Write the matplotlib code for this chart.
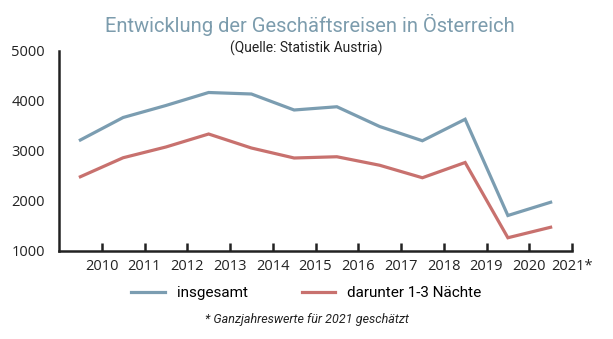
import matplotlib.pyplot as plt
import numpy as np

# data
labels = ['2010', '2011', '2012', '2013', '2014', '2015', '2016',
          '2017', '2018', '2019', '2020', '2021*']
insgesamt = [3220, 3670, 3910, 4170, 4140, 3820, 3885, 3490, 3205, 3635, 1710, 1975]
kurz = [2485, 2865, 3080, 3340, 3060, 2860, 2885, 2715, 2465, 2770, 1265, 1475]

blue = '#7b9db1'
red = '#c8716e'
title_col = '#7c9cad'
narrow = ['Roboto', 'DejaVu Sans']
tickfont = ['Open Sans', 'DejaVu Sans']

fig = plt.figure(figsize=(6.13, 3.39), dpi=100)
ax = fig.add_axes([59 / 613, 1 - 251 / 339, (572 - 59) / 613, 200 / 339])

x = np.arange(len(labels))
ax.plot(x, insgesamt, color=blue, lw=2.3, solid_joinstyle='miter', label='insgesamt')
ax.plot(x, kurz, color=red, lw=2.3, solid_joinstyle='miter', label='darunter 1-3 Nächte')

ax.set_xlim(-0.5, len(labels) - 0.5)
ax.set_ylim(1000, 5000)
ax.set_xticks(x + 0.5)
ax.set_xticklabels(labels, family=tickfont, fontsize=10.5, color='#222222')
ax.set_yticks([1000, 2000, 3000, 4000, 5000])
ax.set_yticklabels(['1000', '2000', '3000', '4000', '5000'], family=tickfont,
                   fontsize=10.5, color='#222222')
ax.tick_params(axis='x', direction='in', length=6, width=1.8, color='#222222', pad=6)
ax.tick_params(axis='y', length=0, pad=10)
# small inward hook at the top of the y axis
ax.set_yticks([5000], minor=True)
ax.tick_params(axis='y', which='minor', direction='in', length=7, width=1.8, color='#222222')

for s in ['top', 'right']:
    ax.spines[s].set_visible(False)
for s in ['left', 'bottom']:
    ax.spines[s].set_linewidth(1.8)
    ax.spines[s].set_color('#222222')

fig.text(0.505, 1 - 25 / 339, 'Entwicklung der Geschäftsreisen in Österreich',
         ha='center', va='center', fontsize=14.5, color=title_col, family=narrow)
fig.text(0.5, 1 - 48 / 339, '(Quelle: Statistik Austria)',
         ha='center', va='center', fontsize=10, color='#222222', family=narrow)

fig.legend(loc='center', bbox_to_anchor=(0.5, 1 - 293 / 339), ncol=2, frameon=False,
           prop={'family': narrow, 'size': 11}, handlelength=2.2, handletextpad=0.8,
           columnspacing=3.5)

fig.text(0.5, 1 - 320 / 339, '* Ganzjahreswerte für 2021 geschätzt',
         ha='center', va='center', fontsize=9, style='italic', color='#222222', family=narrow)

plt.savefig('out.png', dpi=100)
